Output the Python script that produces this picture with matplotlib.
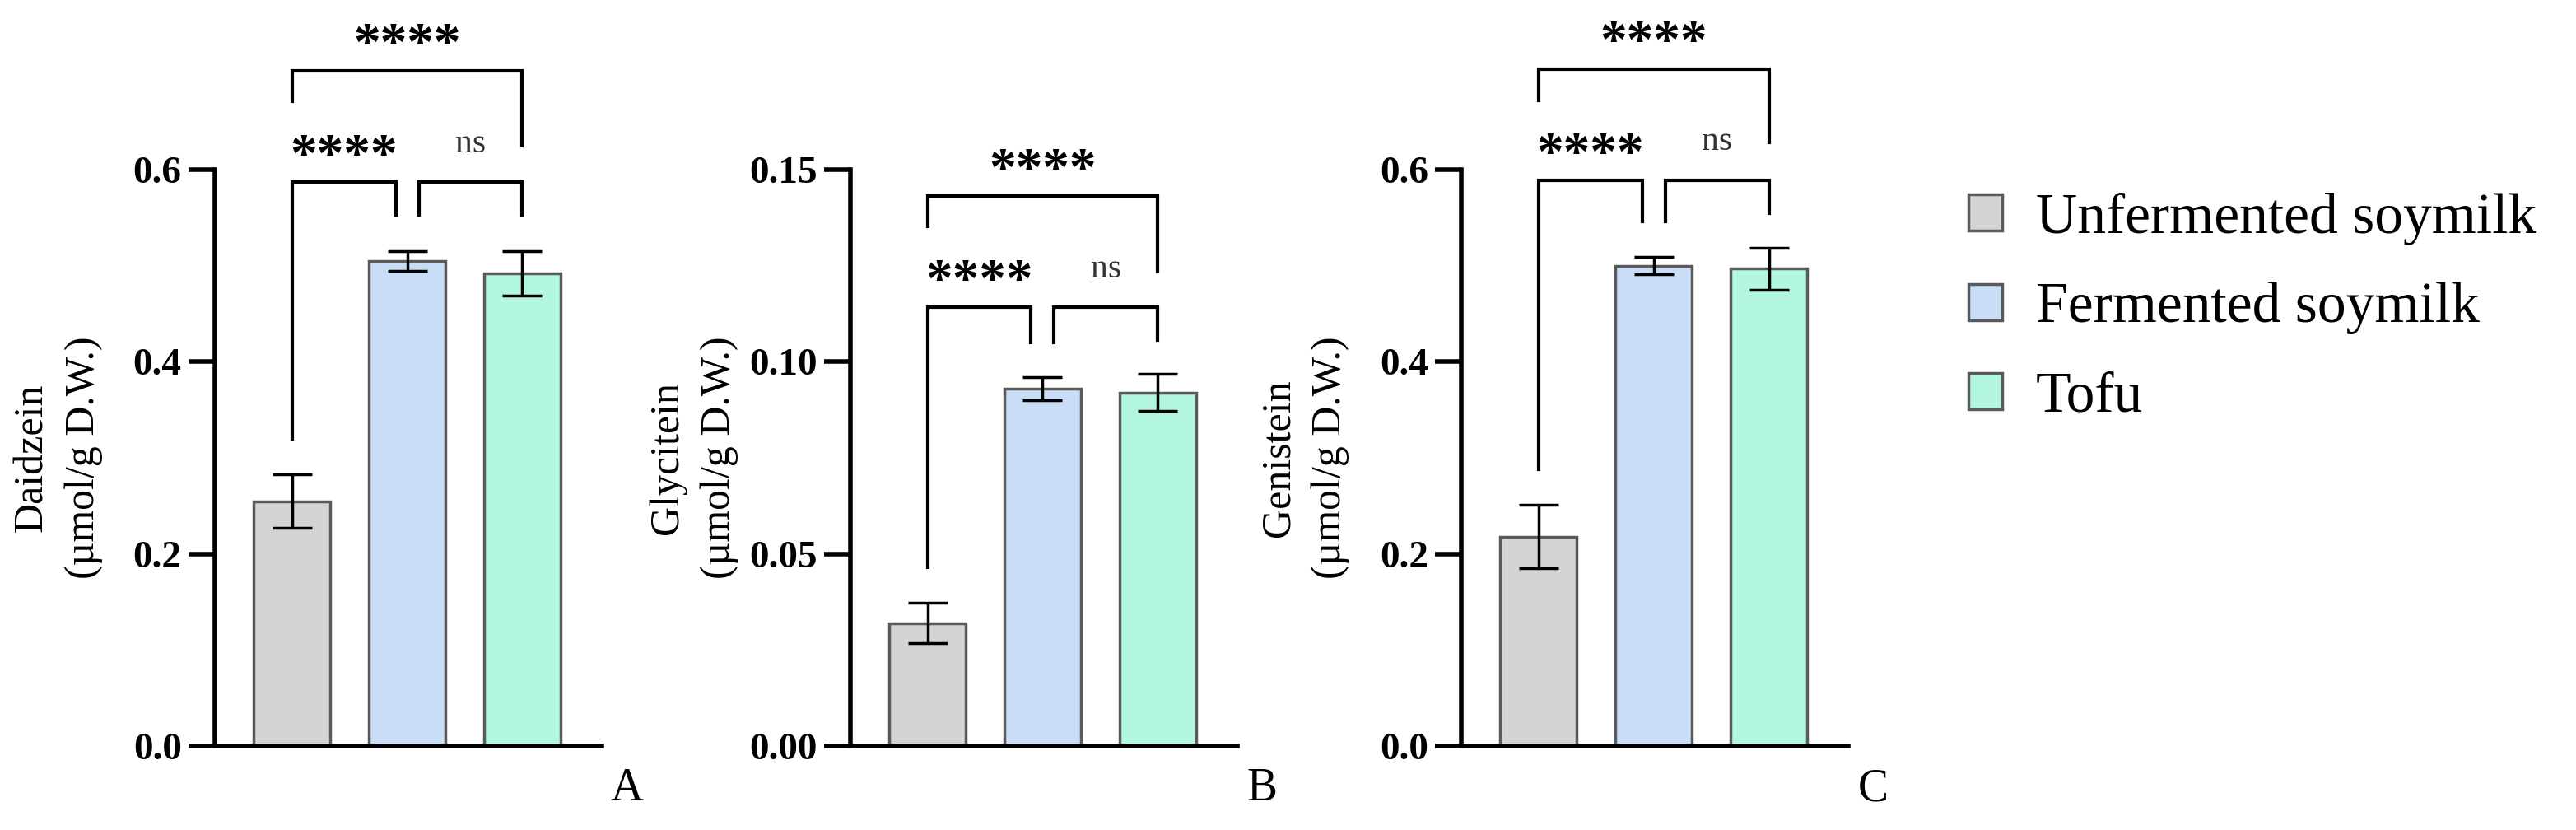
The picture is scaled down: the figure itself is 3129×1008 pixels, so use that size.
import numpy as np
import matplotlib
matplotlib.use("Agg")
import matplotlib.pyplot as plt
from matplotlib.patches import Patch
from matplotlib.transforms import offset_copy

plt.rcParams['font.family'] = ['Liberation Serif', 'DejaVu Serif']

# --- Dados ---
GRUPOS = ["Unfermented soymilk", "Fermented soymilk", "Tofu"]
CORES = ["#d4d4d4", "#c9ddf6", "#b3f6de"]

daidzein_media = [0.255, 0.505, 0.492]
daidzein_erro = [0.028, 0.010, 0.023]
glycitein_media = [0.032, 0.093, 0.092]
glycitein_erro = [0.0052, 0.0029, 0.0048]
genistein_media = [0.218, 0.500, 0.497]
genistein_erro = [0.033, 0.009, 0.022]

# colchetes: (barra i, barra j, altura, perna esq., perna dir., texto)
colchetes_A = [(0, 1, 0.587, 0.320, 0.553, "****"),
               (1, 2, 0.587, 0.553, 0.553, "ns"),
               (0, 2, 0.703, 0.671, 0.625, "****")]
colchetes_B = [(0, 1, 0.1142, 0.0465, 0.105, "****"),
               (1, 2, 0.1142, 0.105, 0.1057, "ns"),
               (0, 2, 0.1432, 0.1352, 0.1235, "****")]
colchetes_C = [(0, 1, 0.589, 0.288, 0.546, "****"),
               (1, 2, 0.589, 0.546, 0.555, "ns"),
               (0, 2, 0.705, 0.672, 0.628, "****")]

ticks_A = [0.0, 0.2, 0.4, 0.6]
ticks_B = [0.00, 0.05, 0.10, 0.15]
ticks_C = [0.0, 0.2, 0.4, 0.6]


def desenha_painel(fig, ax, medias, erros, ticks, fmt, nome, letra, colchetes):
    x = np.arange(len(medias))
    ymax = ticks[-1]
    ax.bar(x, medias, width=0.665, color=CORES, edgecolor="#5a5a5a", linewidth=2.5, zorder=2)
    ax.errorbar(x, medias, yerr=erros, fmt="none", ecolor="black", elinewidth=2.5,
                capsize=17, capthick=2.5, zorder=3)

    ax.set_xlim(-0.67, 2.69)
    ax.set_ylim(0, ymax)
    ax.set_yticks(ticks)
    ax.set_yticklabels([fmt.format(t) for t in ticks], fontsize=34, fontweight="bold")
    ax.set_xticks([])
    for s in ["top", "right"]:
        ax.spines[s].set_visible(False)
    for s in ["left", "bottom"]:
        ax.spines[s].set_linewidth(4)
    ax.tick_params(axis="y", length=23, width=4, pad=6)

    ax.set_ylabel(nome + "\n(\u00b5mol/g D.W.)", fontsize=36, linespacing=1.45)
    ax.yaxis.set_label_coords(-0.29, 0.5)
    ax.text(1.065, -0.075, letra, transform=ax.transAxes, fontsize=40,
            ha="center", va="center")

    desloc = 0.1
    for i, j, y, pe, pd_, txt in colchetes:
        if i == 0 and j == 2:
            xi, xj = x[0], x[2]
        elif i == 0:
            xi, xj = x[0], x[1] - desloc
        else:
            xi, xj = x[1] + desloc, x[2]
        ax.plot([xi, xi, xj, xj], [pe, y, y, pd_], color="black", lw=3,
                clip_on=False, solid_joinstyle="miter", zorder=4)
        ytxt = y + 0.066 * ymax
        if txt == "ns":
            tr = offset_copy(ax.transData, fig=fig, y=-7, units="points")
            ax.text((xi + xj) / 2, ytxt, txt, transform=tr, fontsize=30,
                    color="#333333", ha="center", va="baseline", clip_on=False)
        else:
            tr = offset_copy(ax.transData, fig=fig, y=-23, units="points")
            ax.text((xi + xj) / 2, ytxt, txt, transform=tr, fontsize=47,
                    fontweight="bold", ha="center", va="baseline", clip_on=False)


fig = plt.figure(figsize=(31.29, 10.08), dpi=100)
fundo, altura, largura = 0.1012, 0.6944, 0.1502
axA = fig.add_axes([0.0834, fundo, largura, altura])
axB = fig.add_axes([0.3301, fundo, largura, altura])
axC = fig.add_axes([0.5673, fundo, largura, altura])

desenha_painel(fig, axA, daidzein_media, daidzein_erro, ticks_A, "{:.1f}", "Daidzein", "A", colchetes_A)
desenha_painel(fig, axB, glycitein_media, glycitein_erro, ticks_B, "{:.2f}", "Glycitein", "B", colchetes_B)
desenha_painel(fig, axC, genistein_media, genistein_erro, ticks_C, "{:.1f}", "Genistein", "C", colchetes_C)

handles = [Patch(facecolor=c, edgecolor="#5a5a5a", linewidth=2.5) for c in CORES]
fig.legend(handles, GRUPOS, loc="upper left", bbox_to_anchor=(0.764, 0.768),
           frameon=False, fontsize=50, handlelength=0.6, handleheight=0.6,
           handletextpad=0.58, labelspacing=0.64, borderpad=0, borderaxespad=0)

fig.savefig("out.png", dpi=100)
